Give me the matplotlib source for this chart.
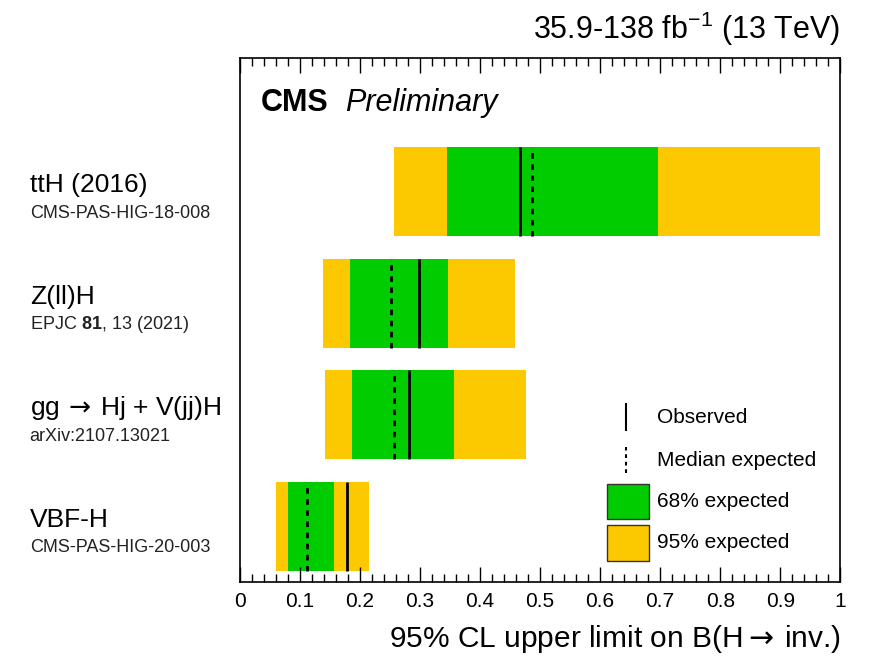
import matplotlib
matplotlib.use("Agg")
import matplotlib.pyplot as plt
from matplotlib.patches import Rectangle
from matplotlib.ticker import MultipleLocator

plt.rcParams['font.family'] = ['Liberation Sans', 'DejaVu Sans']
plt.rcParams['mathtext.fontset'] = 'custom'
plt.rcParams['mathtext.rm'] = 'Liberation Sans'
plt.rcParams['mathtext.bf'] = 'Liberation Sans:bold'
plt.rcParams['mathtext.it'] = 'Liberation Sans:italic'

# data, bottom to top
channels = ['VBF-H', r'gg$\,\rightarrow\,$Hj + V(jj)H', 'Z(ll)H', 'ttH (2016)']
refs = ['CMS-PAS-HIG-20-003', 'arXiv:2107.13021', r'EPJC $\mathbf{81}$, 13 (2021)', 'CMS-PAS-HIG-18-008']
observed = [0.178, 0.282, 0.298, 0.466]
expected = [0.112, 0.257, 0.252, 0.487]
lo68 = [0.081, 0.186, 0.183, 0.345]
hi68 = [0.157, 0.357, 0.347, 0.697]
lo95 = [0.060, 0.141, 0.139, 0.257]
hi95 = [0.215, 0.476, 0.458, 0.966]

green = '#00CC00'
yellow = '#FCC900'

fig = plt.figure(figsize=(8.69, 6.6), dpi=100)
ax = fig.add_axes([0.276, 0.118, 0.691, 0.794])

h = 0.8
for i in range(len(channels)):
    ax.barh(i, hi95[i] - lo95[i], left=lo95[i], height=h, color=yellow, lw=0)
    ax.barh(i, hi68[i] - lo68[i], left=lo68[i], height=h, color=green, lw=0)
    ax.plot([observed[i], observed[i]], [i - h / 2, i + h / 2], color='black', lw=2, solid_capstyle='butt')
    ax.plot([expected[i], expected[i]], [i - h / 2, i + h / 2], color='black', lw=2,
            linestyle=(0, (2, 2)), dash_capstyle='butt')
    # labels to the left
    ax.text(-0.35, i + 0.06, channels[i], fontsize=19, ha='left', va='center', math_fontfamily='dejavusans')
    ax.text(-0.35, i - 0.19, refs[i], fontsize=13, ha='left', va='center', color='#222222')

ax.set_xlim(0, 1)
ax.set_ylim(-0.5, 4.2)
ax.set_yticks([])
ax.xaxis.set_major_locator(MultipleLocator(0.1))
ax.xaxis.set_minor_locator(MultipleLocator(0.02))
ax.set_xticks([0, 0.1, 0.2, 0.3, 0.4, 0.5, 0.6, 0.7, 0.8, 0.9, 1.0])
ax.set_xticklabels(['0', '0.1', '0.2', '0.3', '0.4', '0.5', '0.6', '0.7', '0.8', '0.9', '1'])
ax.tick_params(axis='x', which='both', direction='in', top=True, labelsize=15, pad=7)
ax.tick_params(axis='x', which='major', length=11, width=1)
ax.tick_params(axis='x', which='minor', length=5.5, width=1)
for s in ax.spines.values():
    s.set_linewidth(1.2)

ax.set_xlabel(r'95% CL upper limit on B(H$\rightarrow\,$inv.)', fontsize=21.5, ha='right', x=1.0, labelpad=9,
              math_fontfamily='dejavusans')

# header texts
ax.text(1.0, 1.02, r'35.9-138 fb$^{-1}$ (13 TeV)', transform=ax.transAxes, ha='right', va='bottom', fontsize=22)
ax.text(0.035, 0.914, 'CMS', transform=ax.transAxes, fontsize=22, fontweight='bold', va='center')
ax.text(0.175, 0.914, 'Preliminary', transform=ax.transAxes, fontsize=22, style='italic', va='center')

# legend drawn by hand
rows = [0.315, 0.233, 0.154, 0.075]
tx = 0.695
ax.plot([0.643, 0.643], [rows[0] - 0.024, rows[0] + 0.024], transform=ax.transAxes, color='black', lw=1.5)
ax.plot([0.643, 0.643], [rows[1] - 0.024, rows[1] + 0.024], transform=ax.transAxes, color='black', lw=1.5,
        linestyle=(0, (1.8, 1.8)))
for r, c in [(rows[2], green), (rows[3], yellow)]:
    ax.add_patch(Rectangle((0.611, r - 0.034), 0.07, 0.068, transform=ax.transAxes,
                           facecolor=c, edgecolor='#333333', lw=1))
labels = ['Observed', 'Median expected', '68% expected', '95% expected']
for r, t in zip(rows, labels):
    ax.text(tx, r, t, transform=ax.transAxes, fontsize=15, va='center')

fig.savefig('out.png', dpi=100)
